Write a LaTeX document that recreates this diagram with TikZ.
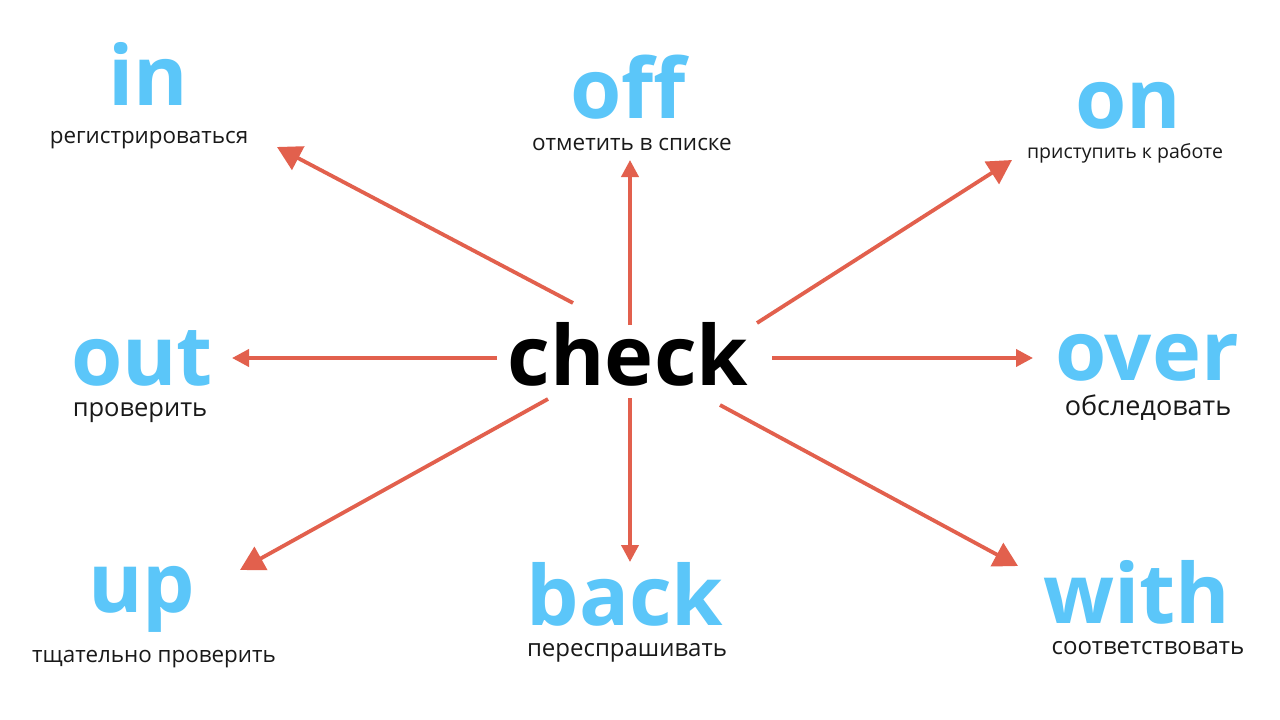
\documentclass[tikz,border=0pt]{standalone}
\usepackage{fontspec}
\setmainfont{Open Sans}
\usetikzlibrary{arrows.meta}
\definecolor{wordblue}{HTML}{5BC6F9}
\definecolor{arrred}{HTML}{E2604D}
\tikzset{
  bigword/.style={anchor=base, inner sep=0pt, text depth=0pt, text=wordblue, font=\fontsize{83}{83}\selectfont\bfseries},
  mainword/.style={anchor=base, inner sep=0pt, text depth=0pt, text=black, font=\fontsize{83}{83}\selectfont\bfseries},
  meaning/.style={anchor=base, inner sep=0pt, text height=12pt, text=black!90, font=\fontsize{#1}{#1}\selectfont},
  meaning/.default=22,
  link/.style={draw=arrred, line width=3.8pt, -{Triangle[length=24pt, width=26pt]}},
  linksmall/.style={draw=arrred, line width=3.8pt, -{Triangle[length=17pt, width=17pt]}}
}
\begin{document}
\begin{tikzpicture}[x=1pt, y=-1pt]
\useasboundingbox[fill=white] (0,0) rectangle (1280,720);
% main word
\node[mainword] (check) at (628,385) {check};
% words
\node[bigword] (in) at (148,105) {in};
\node[meaning=22.4] (inm) at (149,143) {регистрироваться};
\node[bigword] (off) at (628,118) {off};
\node[meaning=22.5] (offm) at (632,150) {отметить в списке};
\node[bigword] (on) at (1128,128) {on};
\node[meaning=19.5] (onm) at (1125,158) {приступить к работе};
\node[bigword] (out) at (142,385) {out};
\node[meaning=25.5] (outm) at (140,416) {проверить};
\node[bigword] (over) at (1147,380) {over};
\node[meaning=27] (overm) at (1148,415) {обследовать};
\node[bigword, text depth=20pt] (up) at (142,612) {up};
\node[meaning=22.4] (upm) at (154,662) {тщательно проверить};
\node[bigword] (back) at (625,625) {back};
\node[meaning=24] (backm) at (627,656) {переспрашивать};
\node[bigword] (with) at (1137,623) {with};
\node[meaning=24] (withm) at (1148,654) {соответствовать};
% arrow ends
\coordinate (sIn) at (573,303);  \coordinate (tIn) at (277,147);
\coordinate (sOff) at (630,325); \coordinate (tOff) at (630,160);
\coordinate (sOn) at (757,323);  \coordinate (tOn) at (1012,160);
\coordinate (sOut) at (497,358); \coordinate (tOut) at (232,358);
\coordinate (sOver) at (772,358);\coordinate (tOver) at (1033,358);
\coordinate (sUp) at (548,399);  \coordinate (tUp) at (240,570);
\coordinate (sBack) at (630,398);\coordinate (tBack) at (630,562);
\coordinate (sWith) at (720,405);\coordinate (tWith) at (1018,566);
\draw[link] (sIn) -- (tIn);
\draw[linksmall] (sOff) -- (tOff);
\draw[link] (sOn) -- (tOn);
\draw[linksmall] (sOut) -- (tOut);
\draw[linksmall] (sOver) -- (tOver);
\draw[link] (sUp) -- (tUp);
\draw[linksmall] (sBack) -- (tBack);
\draw[link] (sWith) -- (tWith);
\end{tikzpicture}
\end{document}
